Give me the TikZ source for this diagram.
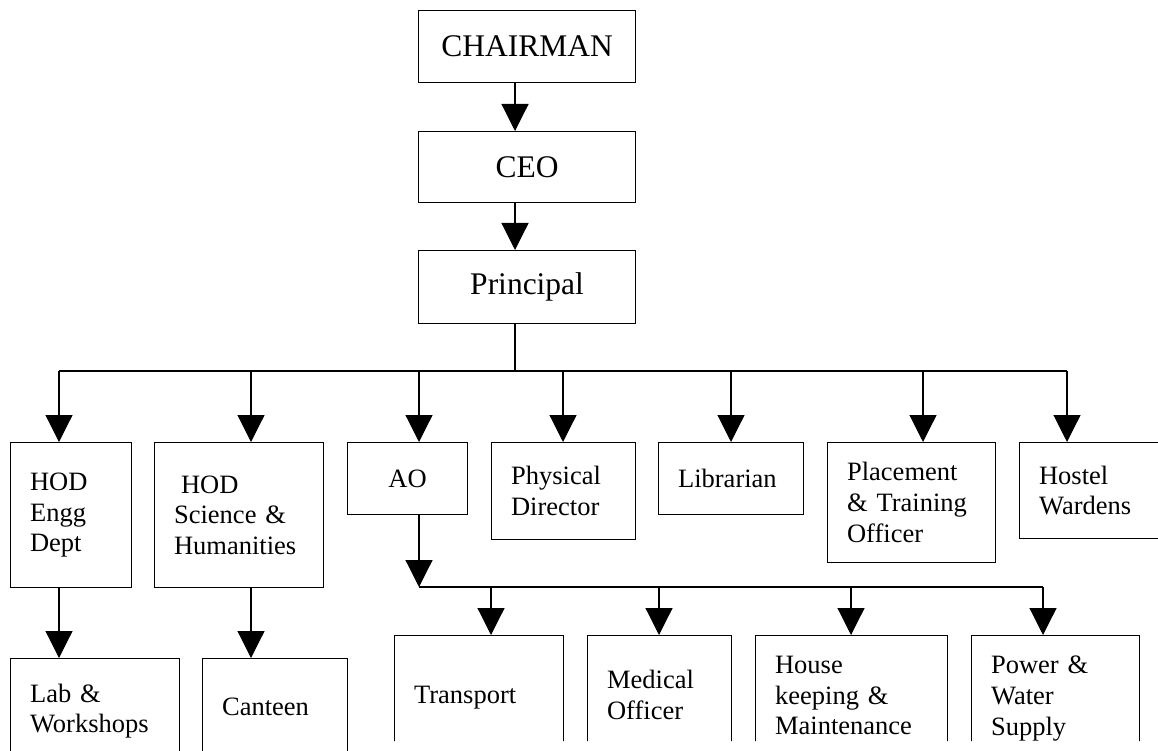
\documentclass[tikz,border=0pt]{standalone}
\usepackage{fontspec}
\setmainfont{Liberation Serif}
\usetikzlibrary{arrows.meta, calc}

\begin{document}
\begin{tikzpicture}[x=1pt, y=-1pt, line width=1.2pt,
  arr/.style={-{Triangle[length=27pt,width=27pt]}},
  head/.style={draw, anchor=north west, minimum width=217pt, inner sep=0pt, font=\fontsize{31.5}{36}\selectfont},
  unit/.style={draw, anchor=north west, align=left, inner xsep=19.5pt, inner ysep=0pt, font=\fontsize{26.5}{30.7}\selectfont}]
\useasboundingbox (0,0) rectangle (1158,751);
\clip (0,0) -- (1158,0) -- (1158,741) -- (375,741) -- (375,751) -- (0,751) -- cycle;
\coordinate (spine) at (515,0);

% Top
\node[head, minimum height=72pt] (chair) at (418,10) {CHAIRMAN};
\node[head, minimum height=71pt] (ceo) at (418,131) {CEO};
\node[head, minimum height=73pt] (principal) at (418,250) {Principal};
\draw[arr] (chair.south -| spine) -- (ceo.north -| spine);
\draw[arr] (ceo.south -| spine) -- (principal.north -| spine);

% Departments
\node[unit, text width=82pt, minimum height=145pt] (engg) at (10,442) {HOD\\Engg\\Dept};
\node[unit, text width=130pt, minimum height=145pt] (sci) at (154,442) {\hspace*{7pt}HOD\\Science \&\\Humanities};
\node[unit, align=center, minimum width=120pt, minimum height=72pt] (ao) at (347,442) {AO};
\node[unit, text width=105pt, minimum height=97pt] (phys) at (491,442) {Physical\\Director};
\node[unit, text width=106pt, minimum height=72pt] (lib) at (658,442) {Librarian};
\node[unit, text width=129pt, minimum height=120pt] (place) at (827,442) {Placement\\\& Training\\Officer};
\node[unit, text width=131pt, minimum height=96pt] (hostel) at (1019,442) {Hostel\\Wardens};

\draw (principal.south -| spine) -- ++(0,48);
\draw ($(engg.north west)+(49,-71)$) -- ($(hostel.north west)+(48,-71)$);
\foreach \n/\dx in {engg/49, sci/97, ao/72, phys/72, lib/73, place/96, hostel/48}
  \draw[arr] ($(\n.north west)+(\dx,-71)$) -- ($(\n.north west)+(\dx,0)$);

% Sections
\node[unit, text width=130pt, minimum height=105pt] (lab) at (10,658) {Lab \&\\Workshops};
\node[unit, text width=106pt, minimum height=96pt] (canteen) at (202,658) {Canteen};
\node[unit, text width=130pt, minimum height=124pt] (transport) at (394,635) {Transport};
\node[unit, text width=105pt, minimum height=119pt] (medical) at (587,635) {Medical\\Officer};
\node[unit, text width=153pt, minimum height=120pt] (house) at (755,635) {House\\keeping \&\\Maintenance};
\node[unit, text width=129pt, minimum height=126pt] (power) at (971,635) {Power \&\\Water\\Supply};

\draw[arr] ($(engg.south west)+(49,0)$) -- ($(lab.north west)+(49,0)$);
\draw[arr] ($(sci.south west)+(97,0)$) -- ($(canteen.north west)+(49,0)$);
\draw[arr] ($(ao.south west)+(72,0)$) -- ($(power.north west)+(-552,-48)$);
\draw ($(power.north west)+(-552,-48)$) -- ($(power.north west)+(72,-48)$);
\foreach \n/\dx in {transport/97, medical/72, house/96, power/72}
  \draw[arr] ($(\n.north west)+(\dx,-48)$) -- ($(\n.north west)+(\dx,0)$);
\end{tikzpicture}
\end{document}
